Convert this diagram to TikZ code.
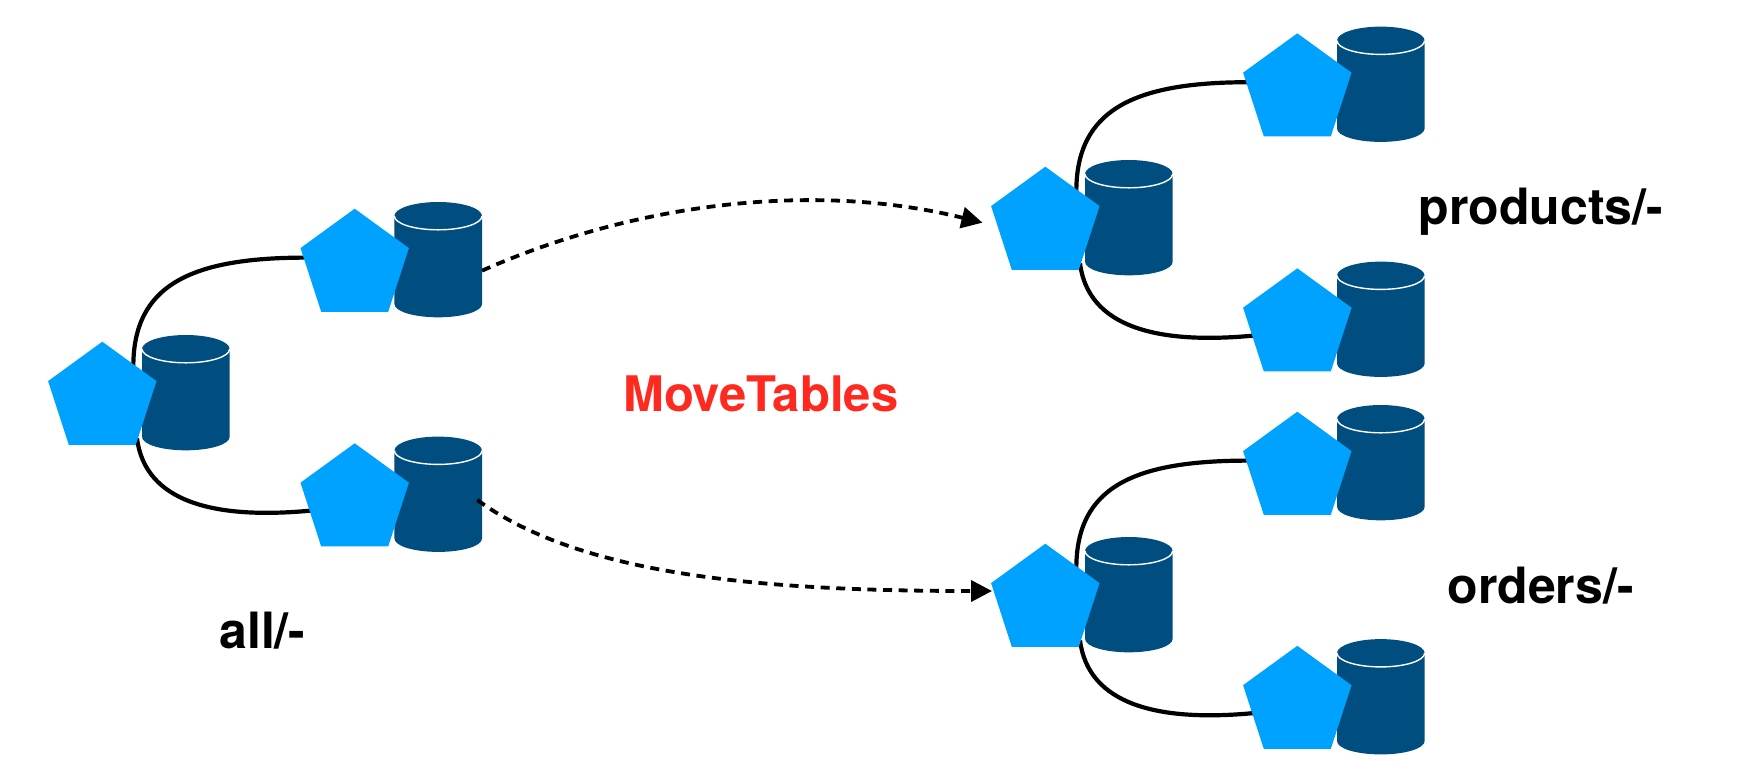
\documentclass[tikz,border=0pt]{standalone}
\usepackage{fontspec}
\setmainfont{TeX Gyre Heros}
\usetikzlibrary{shapes.geometric,arrows.meta,backgrounds,calc}
\definecolor{pentblue}{HTML}{00A2FF}
\definecolor{dbblue}{HTML}{004D80}
\definecolor{movered}{HTML}{FF2A1F}
\tikzset{
  x=0.5pt,y=-0.5pt,
  pentshape/.style={regular polygon,regular polygon sides=5,fill=pentblue,inner sep=0pt,outer sep=0pt,minimum size=57pt},
  dbbox/.style={rectangle,inner sep=0pt,outer sep=0pt,minimum width=43.85pt,minimum height=57.65pt},
  link/.style={line width=2.1pt,black,shorten <=-1pt,shorten >=-1pt},
  move/.style={line width=1.9pt,black,dash pattern=on 4.5pt off 3.3pt,-{Triangle[length=10.5pt,width=10.5pt]}},
  lab/.style={font=\bfseries\fontsize{25}{29}\selectfont,text=black,inner sep=0pt,anchor=base},
  pics/unit/.style={code={
    \node[dbbox] (-db) at (83.5,-6) {};
    \fill[dbblue] (39.7,-49.7) -- (39.7,38) .. controls (39.7,46) and (60,51.6) .. (83.5,51.6) .. controls (107,51.6) and (127.4,46) .. (127.4,38) -- (127.4,-49.7) -- cycle;
    \fill[dbblue] (83.5,-49.7) ellipse [x radius=21.9pt,y radius=7pt];
    \draw[white,line width=0.7pt] (39.7,-49.7) arc [start angle=180,end angle=360,x radius=21.9pt,y radius=6.9pt];
    \node[pentshape] (-pent) at (0,0) {};
  }}
}
\begin{document}
\begin{tikzpicture}
\useasboundingbox (0,0) rectangle (1740,768);
\pic (a) at (102.3,398.7) {unit};
\pic (b) at (354.7,265.7) {unit};
\pic (c) at (354.7,500.3) {unit};
\pic (d) at (1045.3,223.7) {unit};
\pic (e) at (1297.3,90.3) {unit};
\pic (f) at (1297.3,325.3) {unit};
\pic (g) at (1045.3,600.7) {unit};
\pic (h) at (1297.3,468.7) {unit};
\pic (i) at (1297.3,702.8) {unit};
\begin{scope}[on background layer]
\draw[link] (a-pent.48) .. controls +(0,-79) and +(-113,0) .. (b-pent.171);
\draw[link] (a-pent.-50) .. controls +(8,62) and +(-95,9) .. (c-pent.193);
\draw[link] (d-pent.48) .. controls +(0,-79) and +(-113,0) .. (e-pent.171);
\draw[link] (d-pent.-50) .. controls +(8,62) and +(-95,9) .. (f-pent.193);
\draw[link] (g-pent.48) .. controls +(0,-79) and +(-113,0) .. (h-pent.171);
\draw[link] (g-pent.-50) .. controls +(8,62) and +(-95,9) .. (i-pent.193);
\end{scope}
\coordinate (tipup) at (982.5,222.7);
\coordinate (tipdown) at (992,591);
\draw[move] (b-db.-14) .. controls (630,205) and (810,180) .. (tipup);
\draw[move] ($(c-db.east)+(-4.7,5.7)$) .. controls (580,575) and (760,591) .. (tipdown);
\node[font=\bfseries\fontsize{24.5}{28}\selectfont,text=movered,inner sep=0pt,anchor=base] (title) at (760.8,411.7) {MoveTables};
\node[lab] (prod) at (1540.8,224) {products/-};
\node[lab] (ord) at (1540.8,603) {orders/-};
\node[lab] (all) at (262.4,648) {all/-};
\end{tikzpicture}
\end{document}
